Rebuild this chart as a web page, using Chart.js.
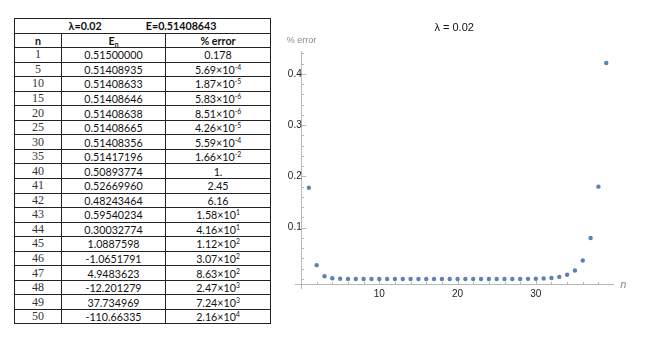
<!DOCTYPE html>
<html>
<head>
<meta charset="utf-8">
<script src="https://cdn.jsdelivr.net/npm/chart.js@4"></script>
<style>
  html, body { margin: 0; padding: 0; background: #fff; }
  body { width: 657px; height: 364px; position: relative; overflow: hidden; }
  #tbl {
    position: absolute; left: 14px; top: 18px; width: 257px;
    border-collapse: collapse; table-layout: fixed;
    font-family: Lato, "Liberation Sans", sans-serif; font-size: 10.7px; color: #111;
  }
  #tbl td { border: 1px solid #222; padding: 0; height: 13.55px; line-height: 13px; text-align: center; white-space: nowrap; }
  #tbl .hd td { font-weight: bold; }
  #tbl td.n { font-family: "Liberation Serif", serif; font-size: 12px; color: #333; }
  #tbl sup { font-size: 6.8px; vertical-align: 4px; line-height: 0; }
  #tbl sub { font-size: 6.8px; vertical-align: -2px; line-height: 0; }
  #chart { position: absolute; left: 272px; top: 0; }
</style>
</head>
<body>
<table id="tbl">
  <colgroup><col style="width:47px"><col style="width:104px"><col style="width:105px"></colgroup>
  <tbody id="tbody"></tbody>
</table>
<canvas id="chart" width="385" height="364"></canvas>
<script>
// Table data
const lambdaText = 'λ=0.02';
const exactText = 'E=0.51408643';
const tableN = [1, 5, 10, 15, 20, 25, 30, 35, 40, 41, 42, 43, 44, 45, 46, 47, 48, 49, 50];
const tableE = ['0.51500000', '0.51408935', '0.51408633', '0.51408646', '0.51408638', '0.51408665',
    '0.51408356', '0.51417196', '0.50893774', '0.52669960', '0.48243464', '0.59540234', '0.30032774',
    '1.0887598', '-1.0651791', '4.9483623', '-12.201279', '37.734969', '-110.66335'];
const tableErr = ['0.178', '5.69e-4', '1.87e-5', '5.83e-6', '8.51e-6', '4.26e-5', '5.59e-4', '1.66e-2',
    '1.', '2.45', '6.16', '1.58e1', '4.16e1', '1.12e2', '3.07e2', '8.63e2', '2.47e3', '7.24e3', '2.16e4'];

// Plot data (% error against n)
const nValues = [1, 2, 3, 4, 5, 6, 7, 8, 9, 10, 11, 12, 13, 14, 15, 16, 17, 18, 19, 20,
    21, 22, 23, 24, 25, 26, 27, 28, 29, 30, 31, 32, 33, 34, 35, 36, 37, 38, 39];
const errValues = [0.178, 0.027, 0.0055, 0.0014, 0.000569, 0.00028, 0.00014, 0.00007, 0.000035, 0.0000187,
    0.000011, 0.000008, 0.0000065, 0.000006, 0.00000583, 0.000006, 0.0000065, 0.000007, 0.0000078, 0.00000851,
    0.00001, 0.000013, 0.000018, 0.000027, 0.0000426, 0.000068, 0.00011, 0.00018, 0.0003, 0.000559,
    0.0011, 0.0021, 0.0041, 0.0082, 0.0166, 0.036, 0.080, 0.180, 0.421];

// Axis ticks
const yMajorTicks = [0.1, 0.2, 0.3, 0.4];
const yMinorTicks = [0, 0.02, 0.04, 0.06, 0.08, 0.12, 0.14, 0.16, 0.18, 0.22, 0.24, 0.26, 0.28,
    0.32, 0.34, 0.36, 0.38, 0.42, 0.44];
const xMajorTicks = [10, 20, 30];
const xMinorTicks = [2, 4, 6, 8, 12, 14, 16, 18, 22, 24, 26, 28, 32, 34, 36, 38];

// Build the table
function fmtErr(s) {
    if (s.indexOf('e') < 0) return s;
    const [m, e] = s.split('e');
    return m + '×10<sup>' + e + '</sup>';
}
const tbody = document.getElementById('tbody');
tbody.innerHTML =
    '<tr class="hd"><td colspan="3">' + lambdaText +
    '<span style="display:inline-block;width:44px"></span>' + exactText + '</td></tr>' +
    '<tr class="hd"><td>n</td><td>E<sub>n</sub></td><td>% error</td></tr>' +
    tableN.map((n, i) =>
        '<tr><td class="n">' + n + '</td><td>' + tableE[i] + '</td><td>' + fmtErr(tableErr[i]) + '</td></tr>'
    ).join('');

// Plot
const axisColor = '#b8b8b8';
const yAxisAtN = 0.09;
const xAxisAtErr = -0.0103;

const mmaAxes = {
    id: 'mmaAxes',
    beforeDatasetsDraw(chart) {
        const { ctx, scales: { x, y } } = chart;
        const x0 = x.getPixelForValue(yAxisAtN);
        const y0 = y.getPixelForValue(xAxisAtErr);
        ctx.save();
        ctx.strokeStyle = axisColor;
        ctx.lineWidth = 1;
        ctx.beginPath();
        yMinorTicks.forEach(v => {
            const py = Math.round(y.getPixelForValue(v)) + 0.5;
            ctx.moveTo(x0, py); ctx.lineTo(x0 + 2.5, py);
        });
        yMajorTicks.forEach(v => {
            const py = Math.round(y.getPixelForValue(v)) + 0.5;
            ctx.moveTo(x0, py); ctx.lineTo(x0 + 4.5, py);
        });
        xMinorTicks.forEach(v => {
            const px = Math.round(x.getPixelForValue(v)) + 0.5;
            ctx.moveTo(px, y0); ctx.lineTo(px, y0 - 2.5);
        });
        xMajorTicks.forEach(v => {
            const px = Math.round(x.getPixelForValue(v)) + 0.5;
            ctx.moveTo(px, y0); ctx.lineTo(px, y0 - 4.5);
        });
        ctx.stroke();

        ctx.fillStyle = '#8a8a8a';
        ctx.textBaseline = 'middle';
        ctx.textAlign = 'left';
        ctx.font = '9px "Liberation Sans", Arial, sans-serif';
        ctx.fillText('% error', x0 - 15, y.top - 11);
        ctx.font = 'italic 11px "Liberation Sans", Arial, sans-serif';
        ctx.fillText('n', x.right + 7, y0 + 1);
        ctx.restore();
    }
};

new Chart(document.getElementById('chart'), {
    type: 'scatter',
    data: {
        datasets: [{
            data: nValues.map((n, i) => ({ x: n, y: errValues[i] })),
            backgroundColor: '#5e81b5',
            borderWidth: 0,
            pointRadius: 2.2,
            pointHoverRadius: 2.2
        }]
    },
    options: {
        responsive: false,
        animation: false,
        events: [],
        layout: { padding: { left: 23, right: 43.7, top: 0, bottom: 76 } },
        plugins: {
            legend: { display: false },
            tooltip: { enabled: false },
            title: {
                display: true,
                text: 'λ = 0.02',
                color: '#111',
                font: { family: '"Liberation Sans", Arial, sans-serif', size: 11, weight: 'normal' },
                padding: { top: 21.7, bottom: 16.8 }
            }
        },
        scales: {
            x: {
                type: 'linear',
                min: -0.77,
                max: 39.9,
                position: { y: xAxisAtErr },
                afterBuildTicks: s => { s.ticks = xMajorTicks.map(v => ({ value: v })); },
                grid: { display: false, drawTicks: false },
                border: { color: axisColor },
                ticks: {
                    padding: 4,
                    color: '#222',
                    font: { family: '"Liberation Sans", Arial, sans-serif', size: 10 }
                }
            },
            y: {
                type: 'linear',
                min: -0.0175,
                max: 0.443,
                position: { x: yAxisAtN },
                afterBuildTicks: s => { s.ticks = yMajorTicks.map(v => ({ value: v })); },
                grid: { display: false, drawTicks: false },
                border: { color: axisColor },
                ticks: {
                    padding: 4,
                    color: '#222',
                    font: { family: '"Liberation Sans", Arial, sans-serif', size: 10 },
                    callback: v => String(v)
                }
            }
        }
    },
    plugins: [mmaAxes]
});
</script>
</body>
</html>
